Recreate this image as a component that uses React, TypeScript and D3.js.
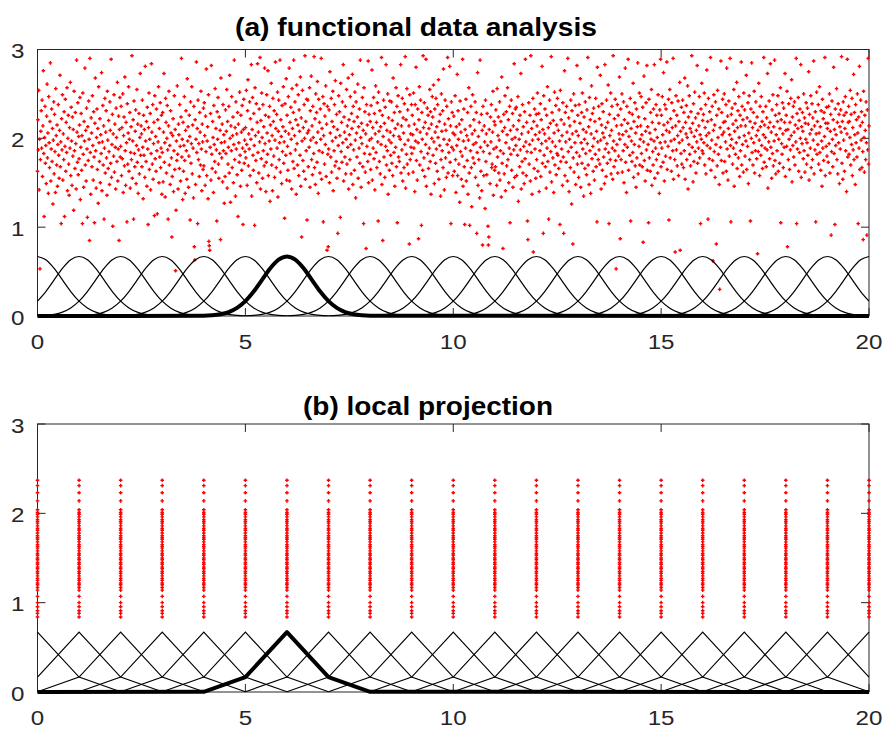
import React from 'react';
import * as d3 from 'd3';

// ---------- data ----------
const titles = ['(a) functional data analysis', '(b) local projection'];
const xTicks = [0, 5, 10, 15, 20];
const yTicks = [0, 1, 2, 3];
const basisCenters = [0, 1, 2, 3, 4, 5, 6, 7, 8, 9, 10, 11, 12, 13, 14, 15, 16, 17, 18, 19, 20];
const highlightCenter = 6;
// shape of one basis function (offset from its centre -> height)
const kernelOffsets = [-2, -1.8, -1.6, -1.4, -1.2, -1, -0.8, -0.6, -0.4, -0.2, 0, 0.2, 0.4, 0.6, 0.8, 1, 1.2, 1.4, 1.6, 1.8, 2];
const kernelValues = [0.0026, 0.0074, 0.019, 0.044, 0.091, 0.167, 0.275, 0.406, 0.537, 0.634, 0.67, 0.634, 0.537, 0.406, 0.275, 0.167, 0.091, 0.044, 0.019, 0.0074, 0.0026];
// the same basis sampled on the integer grid, panel (b)
const gridOffsets = [-2, -1, 0, 1, 2];
const gridValues = [0.0026, 0.167, 0.67, 0.167, 0.0026];
// heights of the projected points in every column of panel (b)
const projectionLevels = [2.37, 2.31, 2.23, 2.14, 2.04, 2.01, 1.99, 1.96, 1.93, 1.91, 1.89, 1.86, 1.83, 1.81, 1.78, 1.75, 1.73, 1.71, 1.68, 1.65, 1.63, 1.61, 1.58, 1.55, 1.53, 1.5, 1.48, 1.45, 1.43, 1.4, 1.38, 1.35, 1.33, 1.3, 1.27, 1.25, 1.22, 1.2, 1.17, 1.14, 1.07, 1.0, 0.955, 0.91, 0.88, 0.84];
// observations of panel (a), in hundredths, evenly spread over [0, 20]
const observationY = [
163,221,187,254,142,199,53,176,208,231,189,243,157,214,276,183,112,201,236,172,192,149,225,261,178,206,138,247,195,167,219,285,152,188,233,174,211,126,198,241,160,227,185,139,256,203,170,215,146,193,
238,181,155,209,271,168,196,104,222,187,249,153,205,176,230,112,191,244,163,218,184,257,141,200,226,171,136,212,189,263,158,235,197,147,224,180,210,119,253,186,166,229,194,143,288,207,173,240,159,202,
177,215,246,131,190,228,164,203,104,251,182,145,219,197,279,170,209,152,234,188,111,213,175,242,199,85,290,184,137,223,206,168,248,192,153,230,179,105,217,268,186,144,201,233,165,211,127,258,195,174,
222,150,204,183,274,141,196,237,170,214,109,189,245,161,207,231,178,136,253,198,166,220,185,148,241,209,172,289,156,193,227,101,205,180,249,162,216,190,143,234,201,174,263,152,188,225,85,210,246,179,
191,236,158,212,177,250,139,203,224,169,269,186,147,218,195,106,239,171,206,258,163,199,229,144,184,213,176,293,155,197,221,109,242,183,168,208,232,149,192,255,173,216,138,187,228,160,201,273,181,214,
205,168,243,190,132,226,181,210,156,281,197,174,219,146,235,188,103,212,251,165,199,228,142,183,284,207,171,238,154,194,218,113,248,177,202,163,233,186,115,221,196,258,150,211,179,240,167,189,226,137,
184,229,151,207,273,173,195,134,245,218,161,200,237,187,109,214,253,170,192,148,231,206,178,89,157,203,222,140,186,248,165,210,51,119,197,175,259,182,143,216,204,166,238,191,152,224,290,179,199,131,
218,163,192,247,175,138,209,231,186,154,267,197,213,145,180,226,202,108,241,172,194,258,160,215,189,133,236,78,63,221,148,199,286,184,211,104,243,176,194,157,229,207,170,253,188,141,216,196,165,234,
169,240,203,147,225,185,278,158,197,213,132,249,84,79,74,190,228,153,282,182,166,219,201,139,237,193,174,256,162,211,187,107,230,199,246,171,155,224,183,209,86,268,195,178,216,151,238,186,204,127,
196,157,232,183,208,255,144,219,171,190,236,161,271,200,128,214,186,247,167,203,224,150,193,288,176,212,135,241,188,205,159,229,112,216,195,173,252,181,146,226,207,164,237,189,103,210,244,172,198,185,
212,178,254,193,147,231,266,169,205,188,241,158,222,199,283,135,210,246,181,164,228,192,102,257,203,175,239,150,218,284,184,207,161,233,196,291,143,220,177,251,201,155,238,186,213,169,279,194,226,140,
173,249,206,182,276,158,224,197,236,129,215,188,262,170,203,141,245,219,180,231,156,198,286,211,167,227,189,252,134,208,243,176,195,288,162,221,202,149,237,185,213,258,172,196,110,239,208,181,267,153,
226,191,164,247,205,279,152,218,183,235,199,143,256,211,174,229,288,166,203,241,187,221,137,260,194,170,215,249,158,232,208,181,269,146,223,89,197,254,175,212,163,238,200,293,154,219,186,244,108,206,
243,168,209,190,257,145,231,198,270,176,214,159,236,201,183,292,167,222,148,250,195,229,173,264,207,138,244,186,218,161,233,199,290,154,211,184,247,106,203,239,171,225,193,259,157,216,74,236,182,78,
188,232,150,275,206,179,245,162,219,197,253,141,213,186,238,169,265,201,174,227,155,210,93,192,248,166,230,203,111,262,185,218,173,241,195,283,152,224,207,179,236,160,199,255,171,214,190,268,143,221,
204,176,247,193,160,228,211,272,148,236,187,219,164,252,198,133,241,206,179,224,261,155,213,189,233,172,288,201,145,217,194,246,168,209,104,257,183,230,162,205,76,238,191,215,174,287,150,227,198,182,
219,165,237,200,277,153,212,189,246,177,228,142,205,259,184,218,167,240,196,107,252,208,174,231,160,213,193,291,148,226,85,202,243,179,217,156,235,191,283,170,209,186,250,137,223,198,164,242,207,181,
195,241,172,220,158,268,203,184,229,146,211,190,257,168,236,105,216,248,179,202,174,230,199,283,161,214,187,245,152,223,206,167,239,193,292,144,221,182,256,171,232,198,160,214,81,249,176,205,190,238,
183,226,204,162,251,189,216,140,238,197,280,175,210,153,233,195,87,221,258,170,207,243,185,102,229,199,164,293,212,178,240,157,218,193,289,146,205,234,183,226,166,211,189,255,174,230,137,216,200,247,
224,181,260,196,149,233,207,172,245,188,213,163,238,201,266,154,219,192,227,135,176,250,208,186,231,167,278,199,142,216,243,178,209,156,236,193,291,161,222,184,198,281,173,214,104,241,190,229,158,206,
187,225,163,204,248,176,139,213,192,272,158,231,199,171,216,128,242,185,207,154,221,180,289,146,197,233,168,103,210,189,244,152,203,175,229,137,198,257,161,102,214,186,236,167,123,205,249,178,193,221,
172,209,241,156,195,229,93,184,274,147,202,176,218,133,288,190,163,227,141,209,80,236,185,158,214,196,121,243,174,205,159,228,192,101,80,89,210,183,149,224,196,238,167,171,207,253,136,188,219,164,
215,168,232,190,147,256,179,203,224,161,198,241,153,186,219,134,269,172,208,76,183,227,160,212,248,141,195,230,169,204,257,176,221,150,189,236,105,209,182,243,164,199,228,145,214,187,284,156,201,233,
192,235,158,210,181,247,129,220,199,168,226,187,273,143,205,174,238,161,213,191,149,230,177,289,196,158,218,185,107,86,207,240,171,193,226,152,293,184,211,137,198,245,72,219,166,233,188,204,155,227,
176,214,251,163,199,228,140,207,186,239,157,221,194,281,172,210,93,248,181,205,233,168,197,144,226,189,258,174,212,109,200,243,162,217,185,292,151,229,196,178,220,139,206,252,170,191,237,159,215,183,
245,181,209,166,232,197,103,254,174,221,188,203,147,240,179,93,216,276,158,229,196,173,236,207,152,290,185,223,140,199,214,167,243,190,126,231,205,81,178,250,162,219,195,237,148,208,184,282,171,226,
203,156,238,180,217,267,145,195,229,172,251,188,210,135,224,199,166,241,183,207,159,232,194,291,170,213,148,246,186,221,138,205,259,177,228,191,163,234,200,153,219,182,245,168,208,106,280,196,176,236,
187,222,171,271,198,143,215,239,164,206,230,179,201,149,283,188,212,157,243,194,172,218,260,184,104,227,203,176,251,160,209,236,189,154,293,197,168,222,186,244,175,53,214,193,238,161,226,180,205,269,
199,87,233,176,215,250,162,204,186,241,150,221,193,279,173,208,139,236,190,217,289,164,202,229,181,245,107,211,197,174,227,184,262,156,219,193,240,169,206,145,233,178,213,285,160,224,191,251,170,199,
214,247,183,204,168,235,83,196,270,175,222,152,208,240,187,282,164,213,193,105,244,178,206,163,229,199,255,147,218,185,170,233,197,283,155,210,189,238,176,226,201,161,249,182,217,138,232,195,289,168,
226,189,247,204,173,274,215,152,238,196,180,233,209,286,165,218,191,244,108,207,255,178,222,197,163,240,212,186,290,154,231,199,176,72,214,248,187,226,169,203,242,158,219,195,263,74,208,183,235,171,
198,243,212,167,229,186,268,154,218,205,237,176,201,259,143,224,193,248,182,211,169,230,207,293,190,217,151,239,174,202,252,185,223,161,209,196,282,172,228,189,214,247,178,204,104,233,199,262,186,220,
183,227,195,251,170,212,238,160,203,277,192,219,109,245,206,177,230,189,291,164,221,198,236,175,62,209,249,185,215,156,241,193,81,226,169,254,201,182,233,148,30,212,190,287,175,229,204,244,161,218,
207,250,174,219,196,238,163,279,188,225,153,211,242,180,204,290,192,106,227,199,234,171,216,189,255,146,208,239,182,220,195,263,166,212,231,178,247,201,157,226,186,214,286,170,236,193,221,162,251,203,
232,180,214,197,271,165,223,191,240,149,206,248,176,219,107,233,200,285,184,212,170,229,195,253,161,217,186,241,203,177,224,70,209,185,262,198,158,236,213,181,247,192,219,166,230,204,291,173,215,189,
201,236,168,223,187,273,144,212,196,242,177,218,284,190,207,155,232,183,249,169,213,197,288,175,226,160,204,238,186,219,248,163,199,228,172,211,257,105,221,194,182,240,205,167,234,190,218,273,157,209,
226,191,253,78,210,176,239,199,165,218,187,245,203,266,151,224,192,236,179,207,241,170,215,196,290,104,228,188,211,246,163,220,184,233,200,283,156,213,194,229,208,177,250,186,223,162,217,199,240,171,
195,234,181,216,275,153,227,205,189,248,167,210,239,176,223,198,287,160,214,187,230,106,205,252,182,219,193,238,171,206,258,184,213,164,231,197,146,244,189,222,175,229,202,291,158,217,191,235,180,211,
217,173,236,194,250,161,208,227,91,185,242,199,168,221,280,183,210,103,233,192,204,256,176,218,160,239,195,227,149,213,188,232,207,292,172,219,154,241,198,226,163,211,247,186,229,140,205,289,179,218,
236,182,219,201,254,170,227,193,245,158,212,187,272,176,229,204,148,238,195,221,179,250,206,104,224,189,281,165,214,243,198,230,167,218,185,86,253,201,162,226,209,176,241,195,91,232,187,290,171,214,
];

// ---------- layout ----------
const W = 886;
const H = 729;
const X0 = 37.5;
const X1 = 869;
const panels = [
  { top: 49.5, bottom: 316, title: titles[0], titleX: 235, titleY: 36, titleLen: 362 },
  { top: 424, bottom: 692, title: titles[1], titleX: 303, titleY: 415, titleLen: 250 },
];
const AXIS = '#262626';
const RED = '#ff0000';
// small plus-sign marker
const PLUS = 'M-1.8,-0.7h3.6v1.4h-3.6zM-0.7,-1.8h1.4v3.6h-1.4z';

type P = { x: number; y: number };

const x = d3.scaleLinear().domain([0, 20]).range([X0, X1]);
const inRange = (p: P) => p.x >= -1e-9 && p.x <= 20 + 1e-9;

function Axes({ y, top, bottom }: { y: d3.ScaleLinear<number, number>; top: number; bottom: number }) {
  const tl = 8;
  return (
    <g stroke={AXIS} strokeWidth={1} fill="none">
      <rect x={X0} y={top} width={X1 - X0} height={bottom - top} />
      {xTicks.map((t) => (
        <g key={'x' + t}>
          <line x1={x(t)} x2={x(t)} y1={bottom} y2={bottom - tl} />
          <line x1={x(t)} x2={x(t)} y1={top} y2={top + tl} />
        </g>
      ))}
      {yTicks.map((t) => (
        <g key={'y' + t}>
          <line x1={X0} x2={X0 + tl} y1={y(t)} y2={y(t)} />
          <line x1={X1} x2={X1 - tl} y1={y(t)} y2={y(t)} />
        </g>
      ))}
    </g>
  );
}

function TickLabels({ y, bottom }: { y: d3.ScaleLinear<number, number>; bottom: number }) {
  const style = { fontFamily: '"Liberation Sans", Arial, Helvetica, sans-serif', fontSize: 21, fill: AXIS };
  return (
    <g style={style}>
      {xTicks.map((t) => (
        <text key={'xl' + t} transform={`translate(${x(t)},${bottom + 33}) scale(1.15,1)`} textAnchor="middle">
          {t}
        </text>
      ))}
      {yTicks.map((t) => (
        <text key={'yl' + t} transform={`translate(${X0 - 13},${y(t) + 8.5}) scale(1.15,1)`} textAnchor="end">
          {t}
        </text>
      ))}
    </g>
  );
}

export default function App() {
  const yA = d3.scaleLinear().domain([0, 3]).range([panels[0].bottom, panels[0].top]);
  const yB = d3.scaleLinear().domain([0, 3]).range([panels[1].bottom, panels[1].top]);

  const n = observationY.length;
  const obs: P[] = observationY.map((v, i) => ({ x: (i * 20) / (n - 1), y: v / 100 }));

  const smoothA = d3.line<P>().x((d) => x(d.x)).y((d) => yA(d.y)).curve(d3.curveMonotoneX);
  const linearB = d3.line<P>().x((d) => x(d.x)).y((d) => yB(d.y));

  const kernelCurve = (c: number): P[] =>
    kernelOffsets.map((o, i) => ({ x: c + o, y: kernelValues[i] })).filter(inRange);
  const gridCurve = (c: number): P[] =>
    gridOffsets.map((o, i) => ({ x: c + o, y: gridValues[i] })).filter(inRange);

  const boldA: P[] = [{ x: 0, y: 0 }, ...kernelCurve(highlightCenter), { x: 20, y: 0 }];
  const boldB: P[] = [{ x: 0, y: 0 }, ...gridCurve(highlightCenter), { x: 20, y: 0 }];

  return (
    <svg width={W} height={H} style={{ position: 'absolute', left: 0, top: 0, background: '#fff' }}>
      <rect width={W} height={H} fill="#fff" />
      {/* titles */}
      {panels.map((p, i) => (
        <text
          key={'t' + i}
          x={p.titleX}
          y={p.titleY}
          textLength={p.titleLen}
          lengthAdjust="spacingAndGlyphs"
          style={{ fontFamily: '"Liberation Sans", Arial, Helvetica, sans-serif', fontWeight: 700, fontSize: 25, fill: '#000' }}
        >
          {p.title}
        </text>
      ))}

      {/* panel (a) */}
      <Axes y={yA} top={panels[0].top} bottom={panels[0].bottom} />
      <g fill={RED}>
        {obs
          .filter((d) => d.y <= 3)
          .map((d, i) => (
            <path key={i} d={PLUS} transform={`translate(${x(d.x)},${yA(d.y)})`} />
          ))}
      </g>
      <g fill="none" stroke="#000" strokeWidth={1.2}>
        {basisCenters.map((c) => (
          <path key={c} d={smoothA(kernelCurve(c)) || ''} />
        ))}
      </g>
      <path d={smoothA(boldA) || ''} fill="none" stroke="#000" strokeWidth={4} strokeLinejoin="round" />
      <TickLabels y={yA} bottom={panels[0].bottom} />

      {/* panel (b) */}
      <Axes y={yB} top={panels[1].top} bottom={panels[1].bottom} />
      <g fill={RED}>
        {basisCenters.map((c) =>
          projectionLevels.map((lv, j) => (
            <path key={c + '-' + j} d={PLUS} transform={`translate(${x(c)},${yB(lv)})`} />
          ))
        )}
      </g>
      <g fill="none" stroke="#000" strokeWidth={1.2}>
        {basisCenters.map((c) => (
          <path key={c} d={linearB(gridCurve(c)) || ''} />
        ))}
      </g>
      <path d={linearB(boldB) || ''} fill="none" stroke="#000" strokeWidth={4} strokeLinejoin="round" />
      <TickLabels y={yB} bottom={panels[1].bottom} />
    </svg>
  );
}
